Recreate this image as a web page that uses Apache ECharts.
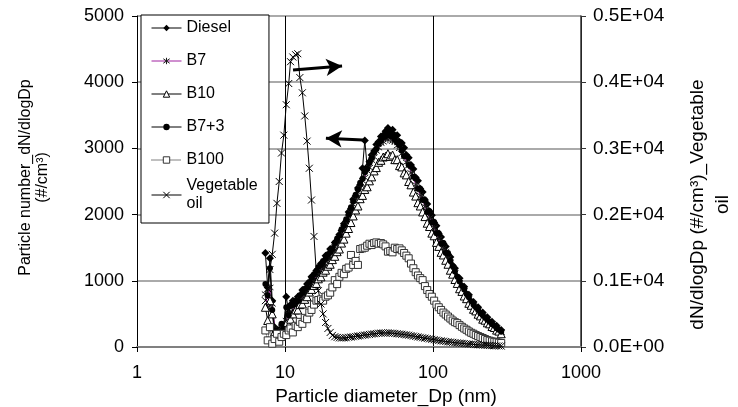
<!DOCTYPE html>
<html>
<head>
<meta charset="utf-8">
<script src="https://cdn.jsdelivr.net/npm/echarts@6/dist/echarts.min.js"></script>
<style>
  html, body { margin: 0; padding: 0; background: #fff; }
  #chart { width: 738px; height: 407px; }
</style>
</head>
<body>
<div id="chart"></div>
<script>
// SMPS channel diameters (nm)
var diameters = [
  7.37, 7.64, 7.91, 8.2, 8.51, 8.82, 9.14, 9.47, 9.82, 10.2,
  10.6, 10.9, 11.3, 11.8, 12.2, 12.6, 13.1, 13.6, 14.1, 14.6,
  15.1, 15.7, 16.3, 16.8, 17.5, 18.1, 18.8, 19.5, 20.2, 20.9,
  21.7, 22.5, 23.3, 24.1, 25.0, 25.9, 26.9, 27.9, 28.9, 30.0,
  31.1, 32.2, 33.4, 34.6, 35.9, 37.2, 38.5, 40.0, 41.4, 42.9,
  44.5, 46.1, 47.8, 49.6, 51.4, 53.3, 55.2, 57.3, 59.4, 61.5,
  63.8, 66.1, 68.5, 71.0, 73.7, 76.4, 79.1, 82.0, 85.1, 88.2,
  91.4, 94.7, 98.2, 101.8, 105.5, 109.4, 113.4, 117.6, 121.9, 126.3,
  131.0, 135.8, 140.7, 145.9, 151.2, 156.8, 162.5, 168.5, 174.7, 181.1,
  187.7, 194.6, 201.7, 209.1, 216.7, 224.7, 232.9, 241.4, 250.3, 259.5,
  269.0, 278.8, 289.0
];

var diesel = [
  1420, 900, 1340, 700, 300, 150, 260, 200, 330, 760,
  520, 640, 700, 620, 760, 700, 860, 820, 950, 900,
  1060, 1010, 1150, 1120, 1260, 1240, 1380, 1350, 1480, 1470,
  1580, 1600, 1700, 1760, 1860, 1900, 2040, 2090, 2230, 2280,
  2400, 2450, 2700, 3120, 2720, 2800, 2900, 2960, 3060, 3100,
  3180, 3200, 3260, 3310, 3230, 3280, 3200, 3200, 3100, 3080,
  3010, 2900, 2860, 2750, 2690, 2560, 2510, 2390, 2340, 2220,
  2160, 2050, 1990, 1880, 1830, 1710, 1660, 1560, 1520, 1400,
  1360, 1230, 1190, 1060, 1040, 920, 910, 800, 790, 680,
  680, 590, 600, 500, 520, 430, 450, 370, 380, 310,
  320, 255, 255
];

var b7 = [
  800, 600, 900, 650, 280, 200, 150, 300, 250, 400,
  500, 470, 560, 690, 700, 660, 780, 760, 860, 880,
  960, 990, 1070, 1100, 1170, 1210, 1290, 1310, 1390, 1420,
  1510, 1550, 1640, 1690, 1800, 1850, 1960, 2030, 2150, 2230,
  2340, 2400, 2510, 2560, 2660, 2710, 2820, 2870, 2960, 3010,
  3080, 3100, 3150, 3130, 3160, 3110, 3100, 3040, 3000, 2920,
  2880, 2790, 2740, 2630, 2560, 2450, 2390, 2290, 2230, 2120,
  2050, 1950, 1890, 1800, 1730, 1630, 1570, 1490, 1440, 1340,
  1280, 1180, 1120, 1020, 970, 890, 850, 770, 730, 660,
  630, 570, 550, 490, 470, 420, 410, 360, 350, 300,
  290, 245, 225
];

var b10 = [
  600, 400, 700, 500, 230, 120, 200, 180, 300, 350,
  330, 420, 500, 560, 560, 640, 650, 720, 760, 830,
  870, 930, 960, 1030, 1060, 1130, 1160, 1220, 1250, 1320,
  1370, 1440, 1480, 1570, 1630, 1720, 1790, 1880, 1980, 2070,
  2130, 2240, 2290, 2380, 2420, 2510, 2570, 2660, 2710, 2790,
  2820, 2870, 2880, 2920, 2880, 2900, 2830, 2830, 2740, 2720,
  2630, 2600, 2500, 2450, 2340, 2280, 2180, 2130, 2040, 1970,
  1870, 1820, 1720, 1680, 1580, 1520, 1430, 1390, 1310, 1250,
  1160, 1100, 1020, 960, 880, 840, 770, 730, 660, 630,
  570, 545, 495, 470, 420, 405, 365, 350, 310, 295,
  255, 240, 200
];

var b7plus3 = [
  950, 780, 1190, 560, 250, 160, 120, 350, 280, 600,
  480, 620, 640, 700, 690, 780, 820, 880, 900, 980,
  1050, 1100, 1150, 1210, 1240, 1300, 1330, 1400, 1430, 1490,
  1570, 1640, 1680, 1780, 1830, 1930, 2000, 2110, 2200, 2300,
  2380, 2480, 2540, 2640, 2690, 2780, 2850, 2940, 2990, 3070,
  3110, 3170, 3180, 3220, 3190, 3180, 3140, 3090, 3050, 2970,
  2880, 2880, 2750, 2730, 2570, 2550, 2390, 2390, 2220, 2220,
  2040, 2050, 1880, 1890, 1720, 1720, 1560, 1570, 1420, 1420,
  1300, 1220, 1140, 1060, 990, 920, 870, 800, 750, 690,
  640, 600, 560, 510, 480, 440, 410, 380, 345, 320,
  285, 260, 230
];

var b100 = [
  250, 100, 300, 50, 120, 200, 80, 150, 200, 180,
  250, 280, 220, 320, 300, 380, 350, 440, 420, 520,
  560, 640, 700, 710, 720, 700, 760, 780, 820, 900,
  1010, 950, 1060, 1120, 1100, 1180, 1200, 1390, 1240, 1300,
  1240, 1480, 1490, 1500, 1530, 1560, 1540, 1570, 1580, 1560,
  1570, 1550, 1520, 1440, 1450, 1430, 1500, 1480, 1490, 1460,
  1420, 1380, 1340, 1260, 1190, 1130, 1080, 1040, 1010, 920,
  860, 800, 760, 700, 640, 600, 560, 520, 490, 460,
  430, 400, 375, 360, 330, 305, 280, 260, 235, 215,
  200, 180, 165, 150, 136, 120, 105, 95, 85, 78,
  72, 65, 60
];

var vegOil = [
  700, 880, 1170, 1400, 1720, 2170, 2500, 2930, 3200, 3660,
  3980, 4310, 4380, 4415, 4430, 4070, 3840, 3490, 3110, 2700,
  2220, 1670, 1110, 850, 650, 500, 370, 280, 220, 175,
  155, 145, 138, 135, 138, 140, 146, 150, 156, 160,
  166, 170, 176, 180, 186, 190, 195, 200, 204, 208,
  210, 213, 212, 214, 210, 208, 205, 201, 196, 192,
  188, 183, 178, 172, 165, 159, 152, 146, 140, 134,
  128, 122, 116, 110, 104, 98, 93, 88, 83, 78,
  74, 70, 66, 62, 58, 55, 52, 48, 45, 42,
  39, 36, 34, 31, 29, 27, 25, 23, 21, 19,
  17, 16, 14
];

var FONT = "'Liberation Sans', Arial, sans-serif";
var asterisk = 'path://M5,0L5,10M0,1.5L10,8.5M10,1.5L0,8.5';
var cross = 'path://M0,0L10,10M10,0L0,10';

function pairs(values) {
  return diameters.map(function (d, i) { return [d, values[i]]; });
}

var chart = echarts.init(document.getElementById('chart'), null, { renderer: 'canvas' });

var legendText = { fontFamily: FONT, fontSize: 16, lineHeight: 18, color: '#000' };

var option = {
  animation: false,
  backgroundColor: '#fff',
  grid: { left: 137, right: 157, top: 16, bottom: 60, containLabel: false, outerBoundsMode: 'none' },
  legend: [
    {
      data: ['Diesel', 'B7', 'B10', 'B7+3', 'B100'],
      orient: 'vertical',
      left: 141,
      top: 15,
      padding: [4, 38, 54, 10],
      itemWidth: 30,
      itemHeight: 8,
      itemGap: 15,
      borderColor: '#000',
      borderWidth: 1,
      backgroundColor: '#fff',
      selectedMode: false,
      textStyle: legendText,
      itemStyle: { borderWidth: 1 },
      lineStyle: { width: 1 }
    },
    {
      data: ['Vegetable oil'],
      formatter: 'Vegetable\noil',
      orient: 'vertical',
      left: 151,
      top: 168,
      padding: 0,
      itemWidth: 30,
      itemHeight: 8,
      selectedMode: false,
      textStyle: {
        fontFamily: FONT, fontSize: 16, lineHeight: 18, color: '#000',
        padding: [18, 0, 0, 0]
      },
      itemStyle: { borderWidth: 1 },
      lineStyle: { width: 1 }
    }
  ],
  xAxis: {
    type: 'log',
    logBase: 10,
    min: 1,
    max: 1000,
    name: 'Particle diameter_Dp (nm)',
    nameLocation: 'middle',
    nameGap: 37,
    nameTextStyle: { fontFamily: FONT, fontSize: 19, color: '#000', padding: [0, 0, 0, 54] },
    axisLine: { lineStyle: { color: '#808080', width: 2 } },
    axisTick: { show: true, length: 5, lineStyle: { color: '#000' } },
    axisLabel: {
      fontFamily: FONT, fontSize: 18, color: '#000', margin: 17,
      formatter: function (v) { return String(v); }
    },
    splitLine: { show: true, lineStyle: { color: '#000', width: 1 } },
    minorTick: { show: false },
    minorSplitLine: { show: false }
  },
  yAxis: [
    {
      type: 'value',
      min: 0,
      max: 5000,
      interval: 1000,
      name: 'Particle number_dN/dlogDp\n(#/cm³)',
      nameLocation: 'middle',
      nameRotate: 90,
      nameGap: 86,
      nameTextStyle: { fontFamily: FONT, fontSize: 16, lineHeight: 17, color: '#000', padding: [0, 0, 0, 8] },
      axisLine: { show: true, lineStyle: { color: '#000', width: 1 } },
      axisTick: { show: true, length: 5, lineStyle: { color: '#000' } },
      axisLabel: {
        fontFamily: FONT, fontSize: 18, color: '#000', margin: 13,
        formatter: function (v) { return String(v); }
      },
      splitLine: { show: true, lineStyle: { color: '#aaaaaa', width: 2 } }
    },
    {
      type: 'value',
      position: 'right',
      min: 0,
      max: 5000,
      interval: 1000,
      name: 'dN/dlogDp (#/cm³)_Vegetable\noil',
      nameLocation: 'middle',
      nameRotate: 90,
      nameGap: 104,
      nameTextStyle: { fontFamily: FONT, fontSize: 19, lineHeight: 25, color: '#000', padding: [0, 46, 0, 0] },
      axisLine: { show: true, lineStyle: { color: '#333', width: 1.5 } },
      axisTick: { show: true, length: 5, lineStyle: { color: '#333' } },
      axisLabel: {
        fontFamily: FONT, fontSize: 19, color: '#000', margin: 12,
        formatter: function (v) {
          return v === 0 ? '0.0E+00' : (v / 10000).toFixed(1) + 'E+04';
        }
      },
      splitLine: { show: false }
    }
  ],
  series: [
    {
      name: 'Diesel', type: 'line', data: pairs(diesel),
      symbol: 'diamond', symbolSize: 8,
      itemStyle: { color: '#000' },
      lineStyle: { color: '#000', width: 1 },
      emphasis: { disabled: true }
    },
    {
      name: 'B7', type: 'line', data: pairs(b7),
      symbol: asterisk, symbolSize: 7,
      itemStyle: { color: '#1a1a1a', borderColor: '#1a1a1a', borderWidth: 1 },
      lineStyle: { color: '#a020a0', width: 1 },
      emphasis: { disabled: true }
    },
    {
      name: 'B10', type: 'line', data: pairs(b10),
      symbol: 'triangle', symbolSize: 8,
      itemStyle: { color: '#fff', borderColor: '#000', borderWidth: 1 },
      lineStyle: { color: '#000', width: 1 },
      emphasis: { disabled: true }
    },
    {
      name: 'B7+3', type: 'line', data: pairs(b7plus3),
      symbol: 'circle', symbolSize: 6,
      itemStyle: { color: '#000' },
      lineStyle: { color: '#000', width: 1 },
      emphasis: { disabled: true }
    },
    {
      name: 'B100', type: 'line', data: pairs(b100),
      symbol: 'rect', symbolSize: 7,
      itemStyle: { color: '#fff', borderColor: '#333', borderWidth: 1 },
      lineStyle: { color: '#000', width: 1, type: 'dotted' },
      emphasis: { disabled: true }
    },
    {
      name: 'Vegetable oil', type: 'line', yAxisIndex: 1, data: pairs(vegOil),
      symbol: cross, symbolSize: 7,
      itemStyle: { color: '#000', borderColor: '#000', borderWidth: 1 },
      lineStyle: { color: '#000', width: 1 },
      emphasis: { disabled: true },
      markLine: {
        silent: true,
        animation: false,
        symbol: ['none', 'arrow'],
        symbolSize: [13, 16],
        label: { show: false },
        lineStyle: { color: '#000', width: 3, type: 'solid' },
        emphasis: { disabled: true },
        data: [
          [{ coord: [11.33, 4185] }, { coord: [24.3, 4245] }],
          [{ coord: [33.6, 3128] }, { coord: [18.9, 3155] }]
        ]
      }
    }
  ]
};

chart.setOption(option);
window.addEventListener('resize', chart.resize);
</script>
</body>
</html>
